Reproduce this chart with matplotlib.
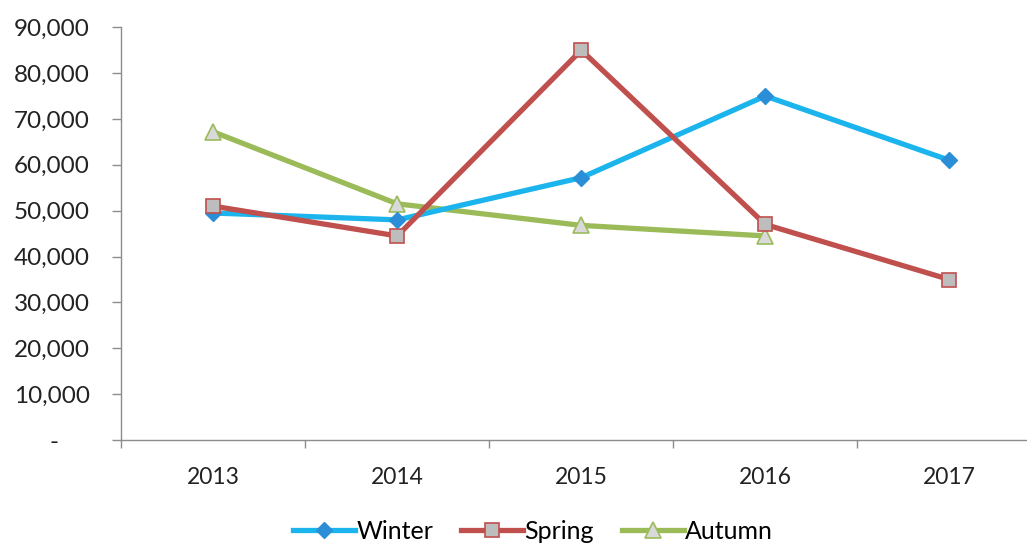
import matplotlib.pyplot as plt
from matplotlib.ticker import FuncFormatter, FixedLocator

years = ["2013", "2014", "2015", "2016", "2017"]
winter = [49500, 48000, 57200, 75000, 61000]
spring = [51000, 44500, 85000, 47000, 35000]
autumn = [67200, 51500, 46800, 44500]

plt.rcParams['font.family'] = ['Lato', 'DejaVu Sans']

fig = plt.figure(figsize=(10.27, 5.44), dpi=100)
ax = fig.add_axes([0.118, 0.191, 0.896, 0.759])

x = range(len(years))
ax.plot(x, winter, color="#1CB4EC", lw=3.8, marker="D", ms=8.5,
        mfc="#2A8FD6", mec="#2A8FD6", label="Winter", zorder=3)
ax.plot(x, spring, color="#C0504D", lw=3.8, marker="s", ms=10,
        mfc="#BDBDBD", mec="#C0504D", mew=1.2, label="Spring", zorder=4)
ax.plot(range(len(autumn)), autumn, color="#9BBB59", lw=3.8, marker="^", ms=11,
        mfc="#D9D9D9", mec="#9BBB59", mew=1.2, label="Autumn", zorder=2)

ax.set_xlim(-0.5, len(years) - 0.5)
ax.set_ylim(0, 90000)
ax.set_yticks(range(0, 90001, 10000))
ax.yaxis.set_major_formatter(FuncFormatter(lambda v, p: "-     " if v == 0 else f"{int(v):,}"))

ax.set_xticks(list(x))
ax.set_xticklabels(years)
ax.xaxis.set_minor_locator(FixedLocator([i - 0.5 for i in range(len(years) + 1)]))
ax.tick_params(axis="x", which="major", length=0, pad=19.5, labelsize=16.5, labelcolor="#222222")
ax.tick_params(axis="x", which="minor", length=6, width=1, color="#8c8c8c", direction="out")
ax.tick_params(axis="y", length=6.5, width=1, color="#8c8c8c", labelsize=17.5, pad=16,
               labelcolor="#222222")

for s in ["top", "right"]:
    ax.spines[s].set_visible(False)
for s in ["left", "bottom"]:
    ax.spines[s].set_color("#8c8c8c")
    ax.spines[s].set_linewidth(1)

# legend sits at the very bottom edge, kept just inside the canvas
fig.legend(loc="center", bbox_to_anchor=(0.519, 0.023), ncol=3, frameon=False,
           fontsize=18, handlelength=2.5, handletextpad=0.05, columnspacing=1.1)

fig.savefig("out.png", dpi=100)
